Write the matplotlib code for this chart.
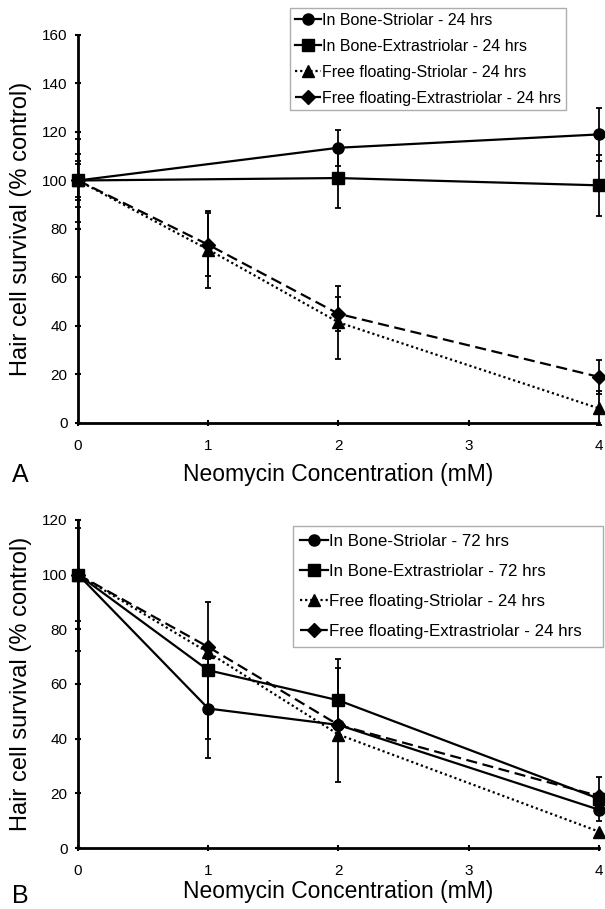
import matplotlib
matplotlib.use("Agg")
import matplotlib.pyplot as plt

plt.rcParams['font.family'] = ['Liberation Sans', 'DejaVu Sans']

conc = [0, 1, 2, 4]

# Panel A - 24 hrs
a_bone_stri = [100, None, 113.5, 119]
a_bone_stri_err = [11, None, 7.5, 11]
a_bone_extra = [100, None, 101, 98]
a_bone_extra_err = [17, None, 12.5, 12.5]
a_free_stri = [100, 71.5, 41.5, 6]
a_free_stri_err = [8, 16, 15, 7]
a_free_extra = [100, 73.5, 45, 19]
a_free_extra_err = [7, 13, 7, 7]

# Panel B - 72 hrs in bone, 24 hrs free floating
b_bone_stri = [100, 51, 45, 14]
b_bone_stri_err = [17, 18, 21, 0]
b_bone_extra = [100, 65, 54, 18]
b_bone_extra_lo = [28, 25, 15, 8]
b_bone_extra_hi = [20, 25, 15, 8]
b_free_stri = [100, 71.5, 41.5, 6]
b_free_extra = [100, 73.5, 45, 19]

labels_a = ['In Bone-Striolar - 24 hrs', 'In Bone-Extrastriolar - 24 hrs',
            'Free floating-Striolar - 24 hrs', 'Free floating-Extrastriolar - 24 hrs']
labels_b = ['In Bone-Striolar - 72 hrs', 'In Bone-Extrastriolar - 72 hrs',
            'Free floating-Striolar - 24 hrs', 'Free floating-Extrastriolar - 24 hrs']

styles = [('o', '-'), ('s', '-'), ('^', ':'), ('D', '--')]
msizes = [8, 8, 8, 7]


def pick(y, err=None):
    xs, ys, es = [], [], []
    for i, v in enumerate(y):
        if v is None:
            continue
        xs.append(conc[i])
        ys.append(v)
        if err is not None:
            if isinstance(err, tuple):
                es.append((err[0][i], err[1][i]))
            else:
                es.append(err[i])
    return xs, ys, es


def draw(ax, series, errs, labels, ymax, xlabelpad):
    for s, e in zip(series, errs):
        if e is None:
            continue
        xs, ys, es = pick(s, e)
        if es and isinstance(es[0], tuple):
            es = [[p[0] for p in es], [p[1] for p in es]]
        ax.errorbar(xs, ys, yerr=es, fmt='none', ecolor='black', elinewidth=1.3,
                    capsize=2, capthick=1.3, clip_on=False, zorder=2)
    handles = []
    for s, (m, ls), ms, lab in zip(series, styles, msizes, labels):
        xs, ys, _ = pick(s)
        h, = ax.plot(xs, ys, color='black', linestyle='-', linewidth=1.6,
                     marker=m, markersize=ms, label=lab, clip_on=False, zorder=3)
        if ls == '--':
            h.set_dashes((5, 2.5))
        elif ls == ':':
            h.set_dashes((1, 1.3))
        handles.append(h)
    ax.set_xlim(0, 4)
    ax.set_ylim(0, ymax)
    ax.set_xticks([0, 1, 2, 3, 4])
    ax.set_yticks(range(0, ymax + 1, 20))
    for sp in ['top', 'right']:
        ax.spines[sp].set_visible(False)
    for sp in ['left', 'bottom']:
        ax.spines[sp].set_linewidth(2)
    ax.tick_params(direction='inout', length=5, width=1.5, labelsize=11)
    ax.tick_params(axis='x', pad=9)
    ax.tick_params(axis='y', pad=5)
    ax.set_xlabel('Neomycin Concentration (mM)', fontsize=16.5, labelpad=xlabelpad)
    ax.set_ylabel('Hair cell survival (% control)', fontsize=17, labelpad=7)
    return handles


fig = plt.figure(figsize=(6.05, 9.09), dpi=100)
axA = fig.add_axes([0.129, 0.5347, 0.861, 0.4268])
axB = fig.add_axes([0.129, 0.0671, 0.861, 0.361])

hA = draw(axA, [a_bone_stri, a_bone_extra, a_free_stri, a_free_extra],
          [a_bone_stri_err, a_bone_extra_err, a_free_stri_err, a_free_extra_err],
          labels_a, 160, 7)
hB = draw(axB, [b_bone_stri, b_bone_extra, b_free_stri, b_free_extra],
          [b_bone_stri_err, (b_bone_extra_lo, b_bone_extra_hi), None, None],
          labels_b, 120, 1.5)

legA = axA.legend(handles=hA, loc='upper left', bbox_to_anchor=(0.48, 0.991),
                  bbox_transform=fig.transFigure, fontsize=11.5, frameon=True,
                  fancybox=False, edgecolor='#999999', handlelength=1.6,
                  handletextpad=0.1, borderpad=0.3, borderaxespad=0,
                  labelspacing=0.68)
legA.get_frame().set_linewidth(1)

legB = axB.legend(handles=hB, loc='upper left',
                  bbox_to_anchor=(0.484, 0.4213, 0.512, 0.0),
                  bbox_transform=fig.transFigure, mode='expand', fontsize=12.2,
                  frameon=True, fancybox=False, edgecolor='#999999',
                  handlelength=1.6, handletextpad=0.1, borderpad=0.45,
                  borderaxespad=0, labelspacing=0.9)
legB.get_frame().set_linewidth(1)

fig.text(0.02, 1 - 475 / 909, 'A', fontsize=18, va='center')
fig.text(0.02, 1 - 896 / 909, 'B', fontsize=18, va='center')

fig.savefig('out.png', dpi=100)
